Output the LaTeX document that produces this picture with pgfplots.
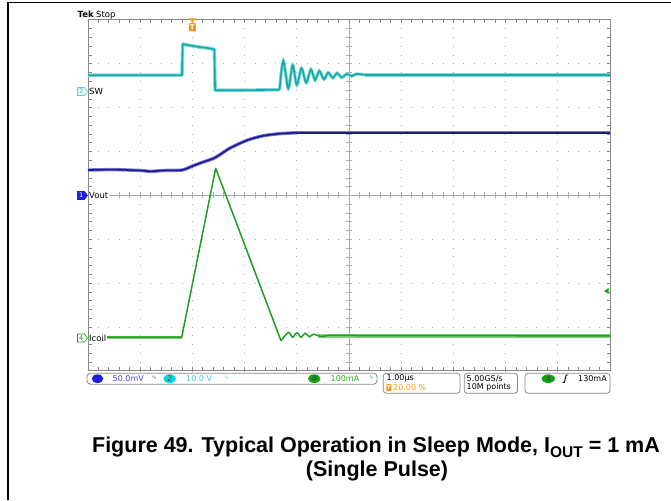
\documentclass[border=0pt]{standalone}
\usepackage{pgfplots}
\pgfplotsset{compat=1.18}
\usepackage{fontspec}
\setmainfont{Liberation Sans}
\newfontfamily\scopefont{DejaVu Sans}
\definecolor{swc}{RGB}{20,170,170}
\definecolor{swl}{RGB}{130,215,215}
\definecolor{voc}{RGB}{25,25,150}
\definecolor{vol}{RGB}{120,120,210}
\definecolor{icc}{RGB}{30,160,30}
\definecolor{icl}{RGB}{130,205,130}
\definecolor{gridc}{RGB}{170,170,170}
\definecolor{bordc}{RGB}{135,135,135}
\definecolor{orng}{RGB}{245,150,20}
\definecolor{chb}{RGB}{30,30,225}
\definecolor{chbt}{RGB}{70,70,235}
\definecolor{chc}{RGB}{0,215,225}
\definecolor{chct}{RGB}{70,200,225}
\definecolor{chg}{RGB}{20,160,20}
\definecolor{chgt}{RGB}{40,170,40}
\begin{document}
\begin{tikzpicture}[x=1pt,y=1pt]
\path[use as bounding box] (0,0) rectangle (671,500);
% page frame
\draw[line width=1.4pt] (8,0) -- (8,497.3) -- (671,497.3);
% graticule dots
\foreach \k in {1,2,3,4,6,7,8,9}
  \draw[gridc, line width=0.9pt, dash pattern=on 0.9pt off 7.875pt, dash phase=0.45pt] ({88+\k*52.2},129) -- ({88+\k*52.2},480);
\foreach \j in {1,2,3,5,6,7}
  \draw[gridc, line width=0.9pt, dash pattern=on 0.9pt off 9.54pt, dash phase=0.45pt] (88,{129+\j*43.875}) -- (610,{129+\j*43.875});
% centre lines
\draw[gridc, line width=0.8pt] (88,304.5) -- (610,304.5);
\draw[gridc, line width=0.8pt] (349,129) -- (349,480);
\foreach \i in {1,...,49} \draw[gridc, line width=0.8pt] ({88+\i*10.44},301.5) -- ++(0,6);
\foreach \i in {1,...,39} \draw[gridc, line width=0.8pt] (346,{129+\i*8.775}) -- ++(6,0);
% border ticks
\foreach \i in {1,...,49} {\draw[bordc, line width=0.8pt] ({88+\i*10.44},129) -- ++(0,3.5); \draw[bordc, line width=0.8pt] ({88+\i*10.44},480) -- ++(0,-3.5);}
\foreach \i in {1,...,39} {\draw[bordc, line width=0.8pt] (88,{129+\i*8.775}) -- ++(3.5,0); \draw[bordc, line width=0.8pt] (610,{129+\i*8.775}) -- ++(-3.5,0);}
\draw[bordc, line width=1pt] (88,129) rectangle (610,480);

\begin{axis}[at={(88pt,129pt)}, anchor=south west, width=522pt, height=351pt,
  scale only axis, xmin=0, xmax=10, ymin=-4, ymax=4, hide axis, clip=false]
% ---- SW (channel 2)
\addplot[swl, line width=3.6pt, line join=round] coordinates {
 (0,2.745) (1.80,2.745) (1.815,3.45) (1.9,3.43) (2.1,3.39) (2.3,3.36) (2.42,3.33) (2.435,2.40) (3.0,2.40) (3.67,2.41)};
\addplot[swl, line width=3.2pt, smooth, tension=0.5] coordinates {
 (3.67,2.41) (3.74,3.07) (3.837,2.44) (3.92,2.97) (4.0,2.52) (4.09,2.90) (4.18,2.57) (4.27,2.875) (4.35,2.63) (4.43,2.84) (4.52,2.65) (4.60,2.80) (4.69,2.68) (4.77,2.79) (4.86,2.69) (4.96,2.77) (5.05,2.72) (5.14,2.77) (5.3,2.75)};
\addplot[swl, line width=3.6pt] coordinates {(5.3,2.75) (10,2.75)};
\addplot[swc, line width=1.6pt, line join=round] coordinates {
 (0,2.745) (1.80,2.745) (1.815,3.45) (1.9,3.43) (2.1,3.39) (2.3,3.36) (2.42,3.33) (2.435,2.40) (3.0,2.40) (3.67,2.41)};
\addplot[swc, line width=1.6pt, smooth, tension=0.5] coordinates {
 (3.67,2.41) (3.74,3.07) (3.837,2.44) (3.92,2.97) (4.0,2.52) (4.09,2.90) (4.18,2.57) (4.27,2.875) (4.35,2.63) (4.43,2.84) (4.52,2.65) (4.60,2.80) (4.69,2.68) (4.77,2.79) (4.86,2.69) (4.96,2.77) (5.05,2.72) (5.14,2.77) (5.3,2.75)};
\addplot[swc, line width=1.6pt] coordinates {(5.3,2.75) (10,2.75)};
% ---- Vout (channel 1)
\addplot[vol, line width=3.4pt, smooth, tension=0.4] coordinates {
 (0,0.58) (0.5,0.59) (1.0,0.57) (1.2,0.55) (1.45,0.57) (1.8,0.58) (2.0,0.67) (2.2,0.76) (2.43,0.86) (2.72,1.08) (3.05,1.26) (3.35,1.36) (3.68,1.41) (4.0,1.43)};
\addplot[vol, line width=3.4pt] coordinates {(4.0,1.43) (10,1.43)};
\addplot[voc, line width=1.6pt, smooth, tension=0.4] coordinates {
 (0,0.58) (0.5,0.59) (1.0,0.57) (1.2,0.55) (1.45,0.57) (1.8,0.58) (2.0,0.67) (2.2,0.76) (2.43,0.86) (2.72,1.08) (3.05,1.26) (3.35,1.36) (3.68,1.41) (4.0,1.43)};
\addplot[voc, line width=1.6pt] coordinates {(4.0,1.43) (10,1.43)};
% ---- Icoil (channel 4)
\addplot[icl, line width=3.4pt] coordinates {(0,-3.23) (1.795,-3.23)};
\addplot[icl, line width=3.4pt] coordinates {(4.4,-3.20) (10,-3.20)};
\addplot[icc, line width=1.5pt, line join=round] coordinates {
 (0,-3.23) (1.795,-3.23) (2.446,0.62) (3.697,-3.31)};
\addplot[icc, line width=1.5pt, smooth, tension=0.5] coordinates {
 (3.697,-3.31) (3.84,-3.12) (3.92,-3.23) (4.0,-3.13) (4.08,-3.23) (4.16,-3.14) (4.24,-3.22) (4.32,-3.16) (4.45,-3.21) (4.6,-3.19)};
\addplot[icc, line width=1.5pt] coordinates {(4.6,-3.19) (10,-3.20)};
\end{axis}

% ---- header
\node[anchor=base west, inner sep=0pt, font=\scopefont\bfseries\fontsize{8.5}{9}\selectfont] at (77.5,482) {Tek};
\node[anchor=base west, inner sep=0pt, font=\scopefont\fontsize{8.5}{9}\selectfont] at (96,482) {Stop};
% trigger position marker
\fill[orng] (188.6,481.5) -- (196.2,481.5) -- (192.4,478) -- cycle;
\fill[orng, rounded corners=1.2pt] (188.9,468.5) rectangle (195.9,477);
\node[text=white, inner sep=0pt, font=\scopefont\bfseries\fontsize{6.5}{7}\selectfont] at (192.4,472.8) {T};
% trigger level arrow
\fill[chg] (604,209) -- (608.5,211.8) -- (608.5,206.2) -- cycle;

% ---- channel markers
\draw[chc!80!black!60, fill=chc!12, line width=0.6pt] (77.5,404.5) -- (84.5,404.5) -- (87.5,408.5) -- (84.5,412.5) -- (77.5,412.5) -- cycle;
\node[text=chct, inner sep=0pt, font=\scopefont\fontsize{6.5}{7}\selectfont] at (81.3,408.5) {2};
\node[anchor=west, inner sep=0.5pt, fill=white, font=\scopefont\fontsize{8.5}{9}\selectfont] at (88.5,408.5) {SW};
\draw[chb, fill=chb, line width=0.6pt] (77.5,300.5) -- (84.5,300.5) -- (87.5,304.5) -- (84.5,308.5) -- (77.5,308.5) -- cycle;
\node[text=white, inner sep=0pt, font=\scopefont\fontsize{6.5}{7}\selectfont] at (81.3,304.5) {1};
\node[anchor=west, inner sep=0.5pt, fill=white, font=\scopefont\fontsize{8.5}{9}\selectfont] at (88.5,304.5) {Vout};
\draw[chg, fill=white, line width=0.6pt] (77.5,158) -- (84.5,158) -- (87.5,162) -- (84.5,166) -- (77.5,166) -- cycle;
\node[text=chg, inner sep=0pt, font=\scopefont\fontsize{6.5}{7}\selectfont] at (81.3,162) {4};
\node[anchor=west, inner sep=0.5pt, fill=white, font=\scopefont\fontsize{8.5}{9}\selectfont] at (88.5,162) {Icoil};

% ---- status bar
\begin{scope}[font=\scopefont\fontsize{8}{9}\selectfont]
\draw[bordc, line width=0.8pt, rounded corners=3.5pt, fill=white] (87,115.8) rectangle (377,126.8);
\fill[chb] (97.5,121.3) ellipse (5.8pt and 4.3pt);
\node[text=voc, inner sep=0pt] at (97.5,121.3) {1};
\node[anchor=west, text=chbt, inner sep=0pt] at (112.5,121.3) {50.0mV};
\node[text=chbt, inner sep=0pt, font=\scopefont\fontsize{6}{6}\selectfont] at (154.3,121.8) {∿};
\fill[chc] (169.7,121.3) ellipse (6.3pt and 4.3pt);
\node[text=black!70, inner sep=0pt] at (169.7,121.3) {2};
\node[anchor=west, text=chct, inner sep=0pt] at (186,121.3) {10.0 V};
\node[text=chct, inner sep=0pt, font=\scopefont\fontsize{6}{6}\selectfont] at (226.7,121.8) {∿};
\fill[chg] (314.3,121.3) ellipse (6.3pt and 4.3pt);
\node[text=black!75, inner sep=0pt] at (314.3,121.3) {4};
\node[anchor=west, text=chgt, inner sep=0pt] at (330.5,121.3) {100mA};
\node[text=chgt, inner sep=0pt, font=\scopefont\fontsize{6}{6}\selectfont] at (371.7,121.8) {∿};
% box 2
\draw[bordc, line width=0.8pt, rounded corners=3pt, fill=white] (383.3,106.7) rectangle (460,126.7);
\node[anchor=west, inner sep=0pt] at (386.5,121.2) {1.00µs};
\fill[orng, rounded corners=0.8pt] (386.3,108.8) rectangle (391.3,116.2);
\node[text=white, inner sep=0pt, font=\scopefont\bfseries\fontsize{5.5}{6}\selectfont] at (388.8,112.4) {T};
\node[anchor=west, text=orng, inner sep=0pt] at (393,112.5) {20.00 \%};
% box 3
\draw[bordc, line width=0.8pt, rounded corners=3pt, fill=white] (464.3,106.7) rectangle (517.5,126.7);
\node[anchor=west, inner sep=0pt] at (466.5,121.2) {5.00GS/s};
\node[anchor=west, inner sep=0pt] at (466.5,112.5) {10M points};
% box 4
\draw[bordc, line width=0.8pt, rounded corners=3pt, fill=white] (525,106.7) rectangle (610,126.7);
\fill[chg] (548.3,121.3) ellipse (6.6pt and 4.3pt);
\node[text=black!75, inner sep=0pt] at (548.3,121.3) {4};
\draw[line width=0.9pt] (562.5,117.5) -- (564.3,117.5) -- (566.2,125) -- (568,125);
\node[anchor=west, inner sep=0pt] at (578,121.3) {130mA};
\end{scope}

% ---- caption
\node[anchor=base, inner sep=0pt, font=\bfseries\fontsize{21.5}{24}\selectfont] at (376,47.3)
  {Figure 49. Typical Operation in Sleep Mode, I\raisebox{-0.22em}{\fontsize{15.5}{16}\selectfont OUT} = 1 mA};
\node[anchor=base, inner sep=0pt, font=\bfseries\fontsize{21.5}{24}\selectfont] at (377,23.3)
  {(Single Pulse)};
\end{tikzpicture}
\end{document}
